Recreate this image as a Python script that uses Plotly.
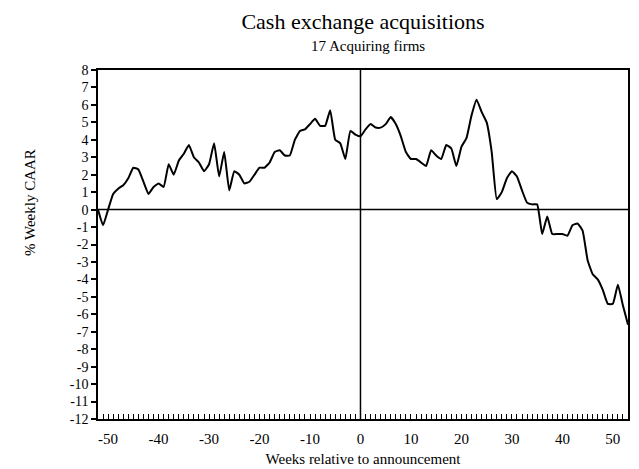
import plotly.graph_objects as go

weeks = list(range(-52, 54))
caar = [
    0.0, -0.9, 0.0, 0.9, 1.2, 1.4, 1.8, 2.4, 2.3, 1.6,
    0.9, 1.3, 1.5, 1.3, 2.6, 2.0, 2.8, 3.2, 3.7, 3.0,
    2.7, 2.2, 2.6, 3.8, 1.9, 3.3, 1.1, 2.2, 2.0, 1.5,
    1.6, 2.0, 2.4, 2.4, 2.7, 3.3, 3.4, 3.1, 3.1, 4.0,
    4.5, 4.6, 4.9, 5.2, 4.8, 4.8, 5.7, 4.0, 3.8, 2.9,
    4.5, 4.3, 4.2, 4.6, 4.9, 4.7, 4.7, 4.9, 5.3, 4.9,
    4.2, 3.3, 2.9, 2.9, 2.7, 2.5, 3.4, 3.1, 2.9, 3.7,
    3.5, 2.5, 3.6, 4.1, 5.4, 6.3, 5.6, 5.0, 3.3, 0.6,
    1.0, 1.8, 2.2, 1.9, 1.1, 0.4, 0.3, 0.3, -1.4, -0.4,
    -1.4, -1.4, -1.4, -1.5, -0.9, -0.8, -1.2, -2.9, -3.7, -4.0,
    -4.6, -5.4, -5.4, -4.3, -5.5, -6.6,
]

x_ticks = [-50, -40, -30, -20, -10, 0, 10, 20, 30, 40, 50]
y_ticks = list(range(-12, 9))

title = "Cash exchange acquisitions"
subtitle = "17 Acquiring firms"
x_title = "Weeks relative to announcement"
y_title = "% Weekly CAAR"

font_family = "Liberation Serif, Times New Roman, serif"

W, H = 639, 469
M_L, M_R, M_T, M_B = 90, 19, 62, 58
plot_h = H - M_T - M_B
plot_w = W - M_L - M_R

fig = go.Figure()
fig.add_trace(go.Scatter(
    x=weeks, y=caar, mode="lines",
    line=dict(color="black", width=2, shape="spline", smoothing=0.4),
    showlegend=False, hoverinfo="skip",
))

fig.add_hline(y=0, line=dict(color="black", width=1.5))
fig.add_vline(x=0, line=dict(color="black", width=1.5))

fig.update_layout(
    width=W, height=H,
    margin=dict(l=M_L, r=M_R, t=M_T, b=M_B),
    paper_bgcolor="white", plot_bgcolor="white",
    font=dict(family=font_family, color="black", size=13),
    title=dict(text=title, x=0.5, xref="paper", y=1 - 13 / H, yref="container",
               xanchor="center", yanchor="middle",
               font=dict(family=font_family, size=22, color="black")),
    annotations=[
        dict(text=subtitle, x=0.51, xref="paper",
             y=1 + (M_T - 38) / plot_h, yref="paper",
             xanchor="center", yanchor="middle",
             showarrow=False, font=dict(family=font_family, size=15)),
        dict(text=y_title, textangle=-90, x=(22 - M_L) / plot_w, xref="paper",
             y=1 - (195 - M_T) / plot_h, yref="paper",
             xanchor="center", yanchor="middle",
             showarrow=False, font=dict(family=font_family, size=15)),
    ],
)

fig.update_xaxes(
    range=[-52, 53], tickvals=x_ticks,
    ticktext=[str(v) for v in x_ticks],
    ticks="inside", ticklen=5, tickcolor="black", tickwidth=1,
    minor=dict(dtick=1, tick0=0, ticks="inside", ticklen=5, tickcolor="black", tickwidth=1),
    showline=True, linecolor="black", linewidth=1.5, mirror=True,
    showgrid=False, zeroline=False, ticklabelstandoff=5,
    tickfont=dict(family=font_family, size=15),
    title=dict(text=x_title, font=dict(family=font_family, size=15), standoff=8),
)
fig.update_yaxes(
    range=[-12, 8], tickvals=y_ticks,
    ticktext=[str(v) for v in y_ticks],
    ticks="outside", ticklen=5, tickcolor="black", tickwidth=1.5,
    showline=True, linecolor="black", linewidth=1.5, mirror=True,
    showgrid=False, zeroline=False,
    tickfont=dict(family=font_family, size=14),
)

fig.write_html("out.html")
